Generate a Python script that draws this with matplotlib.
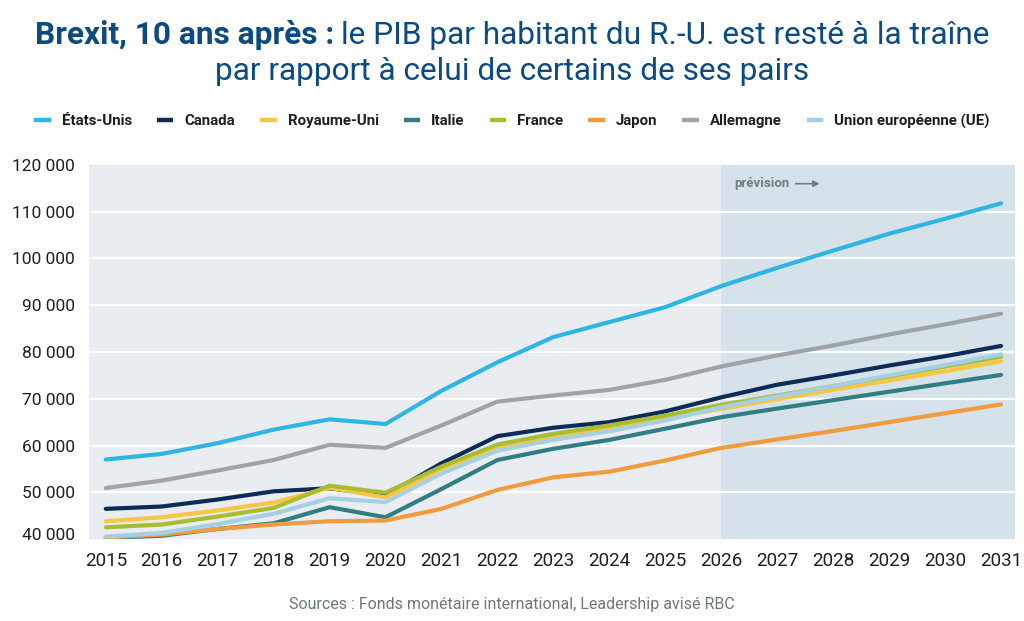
import matplotlib
matplotlib.use('Agg')
import matplotlib.pyplot as plt
import matplotlib.transforms as mtransforms
from matplotlib.lines import Line2D
from matplotlib.ticker import FuncFormatter, FixedLocator

# ---------------- data ----------------
years = list(range(2015, 2032))
year_labels = [str(y) for y in years]
forecast_start = 2026

etats_unis = [57000, 58200, 60500, 63400, 65600, 64600, 71700, 77800, 83200, 86400,
              89600, 94100, 98000, 101700, 105300, 108500, 111800]
canada = [46450, 46950, 48450, 50200, 50850, 49300, 56200, 62000, 63800, 65000,
          67300, 70300, 73000, 75000, 77100, 79100, 81300]
royaume_uni = [43800, 44650, 46100, 47800, 50950, 48900, 55000, 59800, 61800, 63600,
               65700, 67850, 69900, 71900, 73900, 75900, 78000]
italie = [40250, 40700, 42150, 43350, 46800, 44650, 50700, 56900, 59300, 61200,
          63600, 66050, 67900, 69700, 71500, 73300, 75100]
france = [42500, 43100, 44800, 46650, 51400, 49900, 55500, 60200, 62500, 64300,
          66400, 68700, 70700, 72700, 74800, 76900, 79000]
japon = [40350, 40950, 42150, 43100, 43800, 43950, 46450, 50500, 53200, 54400,
         56800, 59500, 61300, 63100, 65000, 66900, 68800]
allemagne = [50900, 52500, 54650, 56900, 60150, 59500, 64300, 69400, 70700, 71900,
             74050, 76900, 79270, 81400, 83750, 85900, 88200]
ue = [40500, 41300, 43200, 45400, 48700, 47900, 54000, 58900, 61200, 63050,
      65350, 68200, 70500, 72700, 75000, 77200, 79500]

series_names = ["États-Unis", "Canada", "Royaume-Uni", "Italie", "France",
                "Japon", "Allemagne", "Union européenne (UE)"]
series_values = [etats_unis, canada, royaume_uni, italie, france, japon, allemagne, ue]
series_colors = ["#2DB5E6", "#0C2B57", "#F6C744", "#2F7E83", "#A9BD33",
                 "#F29B3C", "#9DA3A9", "#A3D0E4"]

y_ticks = [40000, 50000, 60000, 70000, 80000, 90000, 100000, 110000, 120000]

title_bold = "Brexit, 10 ans après :"
title_rest = "le PIB par habitant du R.-U. est resté à la traîne"
title_line2 = "par rapport à celui de certains de ses pairs"
source_text = "Sources : Fonds monétaire international, Leadership avisé RBC"
forecast_text = "prévision"

# ---------------- figure ----------------
plt.rcParams['font.family'] = ['Roboto', 'DejaVu Sans']
W, H = 1024, 621
fig = plt.figure(figsize=(W / 100, H / 100), dpi=100)
fig.patch.set_facecolor('white')

TITLE_COLOR = "#0C4A82"
TEXT_COLOR = "#1F1F1F"

ax = fig.add_axes([89 / W, (H - 539) / H, (1015 - 89) / W, (539 - 165) / H])
ax.set_facecolor("#E9EDF1")
ax.set_xlim(2014.70, 2031.25)
ax.set_ylim(40000, 120000)

ax.axvspan(forecast_start, 2031.25, color="#D6E2EA", zorder=0, lw=0)
for v in y_ticks[1:-1]:
    ax.axhline(v, color="white", lw=1.6, zorder=1)

for name, vals, col in zip(series_names, series_values, series_colors):
    ax.plot(years, vals, color=col, lw=3.0, solid_capstyle='round',
            solid_joinstyle='round', zorder=3, label=name)

for s in ax.spines.values():
    s.set_visible(False)
ax.tick_params(length=0)
ax.yaxis.set_major_locator(FixedLocator(y_ticks))
ax.yaxis.set_major_formatter(FuncFormatter(lambda v, p: f"{int(v):,}".replace(",", " ")))
ax.set_xticks(years)
ax.set_xticklabels(year_labels)
ax.tick_params(axis='y', labelsize=12.5, pad=10, labelcolor=TEXT_COLOR)
ax.tick_params(axis='x', labelsize=13.5, pad=9, labelcolor=TEXT_COLOR)

# forecast annotation
ax.text(2026.23, 116000, forecast_text, fontsize=9.5, color="#6F7B85",
        fontweight='semibold', va='center', ha='left', zorder=4)
ax.annotate("", xy=(2027.76, 116000), xytext=(2027.33, 116000),
            arrowprops=dict(arrowstyle="-|>", color="#6F7B85", lw=1.2,
                            mutation_scale=9, shrinkA=0, shrinkB=0), zorder=4)

# legend
handles = [Line2D([0], [0], color=c, lw=3.2, solid_capstyle='butt') for c in series_colors]
leg = fig.legend(handles, series_names, loc='center', ncol=8, frameon=False,
                 bbox_to_anchor=(512 / W, 1 - 121 / H), handlelength=1.1,
                 handletextpad=0.75, columnspacing=1.65,
                 prop=dict(size=10.8, weight='semibold'))
for t in leg.get_texts():
    t.set_color(TEXT_COLOR)

# title with mixed weights, centered
TS = 22.8
t1 = fig.text(0, 1 - 35 / H, title_bold, fontsize=TS, fontweight='bold',
              color=TITLE_COLOR, va='center', ha='left')
t2 = fig.text(0, 1 - 35 / H, title_rest, fontsize=TS, color=TITLE_COLOR,
              va='center', ha='left')
fig.text(0.5, 1 - 72 / H, title_line2, fontsize=TS, color=TITLE_COLOR,
         va='center', ha='center')
r = fig.canvas.get_renderer()
w1 = t1.get_window_extent(r).width
w2 = t2.get_window_extent(r).width
gap = 7
start = W / 2 - (w1 + gap + w2) / 2
t1.set_x(start / W)
t2.set_x((start + w1 + gap) / W)

fig.text(0.5, 1 - 605 / H, source_text, fontsize=11.5, color="#6D7780",
         ha='center', va='center')

# lift the bottom y label slightly, as in the reference
fig.canvas.draw()
lab0 = ax.yaxis.get_major_ticks()[0].label1
lab0.set_transform(lab0.get_transform() +
                   mtransforms.ScaledTranslation(0, 5 / 100, fig.dpi_scale_trans))

fig.savefig("out.png", dpi=100, facecolor='white')
